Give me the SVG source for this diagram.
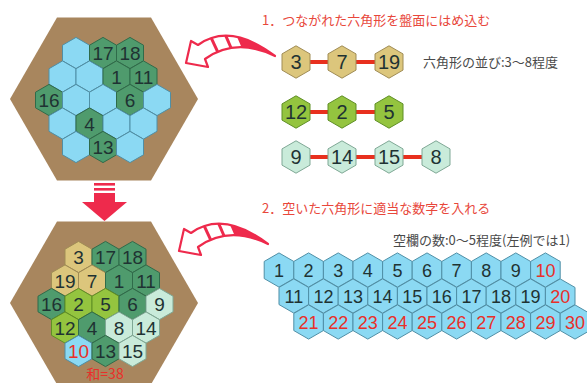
<svg xmlns="http://www.w3.org/2000/svg" xmlns:xlink="http://www.w3.org/1999/xlink" width="587" height="383" viewBox="0 0 587 383">
<style>
.cy{fill:#8bd9f3;stroke:#4f8fa6;stroke-width:1}
.dg{fill:#4f9b6d;stroke:#2f6b4a;stroke-width:1}
.ye{fill:#dcc67c;stroke:#a08c55;stroke-width:1}
.li{fill:#94c43f;stroke:#5f8f25;stroke-width:1}
.pa{fill:#c9ebda;stroke:#7fa895;stroke-width:1}
.board{fill:#a8865e}
.n{font-family:"Liberation Sans",Arial,sans-serif;text-anchor:middle;fill:#1f3333}
.b{font-size:19px}
.g{font-size:18px}
.c{font-size:20px}
.r{fill:#e8302a}
.jp{font-family:"Noto Sans CJK JP","Noto Sans",sans-serif;font-size:13px}
.ttl{fill:#e8473b}
.sub{fill:#4a4a4a}
.link{stroke:#e8301e;stroke-width:4;fill:none}
.arw{fill:#fff;stroke:#ee2a4c;stroke-width:2.2;stroke-linejoin:round}
.arf{fill:#ee2a4c}
</style>
<defs>
<polygon id="hx" points="0,-15.6 13.5,-7.8 13.5,7.8 0,15.6 -13.5,7.8 -13.5,-7.8"/>
<polygon id="hc" points="0,-16.2 14,-8.1 14,8.1 0,16.2 -14,8.1 -14,-8.1"/>
<polygon id="hg" points="0,-17.1 14.8,-8.55 14.8,8.55 0,17.1 -14.8,8.55 -14.8,-8.55"/>
<g id="curl">
<path class="arw" d="M275,56 Q230,22 198,45 L191,41 L186,63 L208,67 L205,59 Q236,37 275,56 Z"/>
<path class="arf" d="M237.1,36.9 Q254.75,40.7 275,56 Q257.45,47.45 241.5,47.2 Z"/>
<line x1="211.3" y1="38.1" x2="217.7" y2="51.8" stroke="#ee2a4c" stroke-width="3"/>
<line x1="225.7" y1="35.7" x2="231.1" y2="48" stroke="#ee2a4c" stroke-width="3"/>
</g>
</defs>
<rect width="587" height="383" fill="#fff"/>

<!-- boards -->
<polygon id="board1" class="board" points="10,99 57,17.6 151,17.6 198,99 151,180.4 57,180.4"/>
<polygon id="board2" class="board" points="10,303 57,221.6 151,221.6 198,303 151,384.4 57,384.4"/>

<!-- top board cells -->
<g id="top-board">
<g id="t1" transform="translate(76,53)"><use href="#hx" class="cy"/></g>
<g id="t2" transform="translate(103,53)"><use href="#hx" class="dg"/><text class="n b" y="7">17</text></g>
<g id="t3" transform="translate(130,53)"><use href="#hx" class="dg"/><text class="n b" y="7">18</text></g>
<g id="t4" transform="translate(62.5,76.5)"><use href="#hx" class="cy"/></g>
<g id="t5" transform="translate(89.5,76.5)"><use href="#hx" class="cy"/></g>
<g id="t6" transform="translate(116.5,76.5)"><use href="#hx" class="dg"/><text class="n b" y="7">1</text></g>
<g id="t7" transform="translate(143.5,76.5)"><use href="#hx" class="dg"/><text class="n b" y="7">11</text></g>
<g id="t8" transform="translate(49,100)"><use href="#hx" class="dg"/><text class="n b" y="7">16</text></g>
<g id="t9" transform="translate(76,100)"><use href="#hx" class="cy"/></g>
<g id="t10" transform="translate(103,100)"><use href="#hx" class="cy"/></g>
<g id="t11" transform="translate(130,100)"><use href="#hx" class="dg"/><text class="n b" y="7">6</text></g>
<g id="t12" transform="translate(157,100)"><use href="#hx" class="cy"/></g>
<g id="t13" transform="translate(62.5,123.5)"><use href="#hx" class="cy"/></g>
<g id="t14" transform="translate(89.5,123.5)"><use href="#hx" class="dg"/><text class="n b" y="7">4</text></g>
<g id="t15" transform="translate(116.5,123.5)"><use href="#hx" class="cy"/></g>
<g id="t16" transform="translate(143.5,123.5)"><use href="#hx" class="cy"/></g>
<g id="t17" transform="translate(76,147)"><use href="#hx" class="cy"/></g>
<g id="t18" transform="translate(103,147)"><use href="#hx" class="dg"/><text class="n b" y="7">13</text></g>
<g id="t19" transform="translate(130,147)"><use href="#hx" class="cy"/></g>
</g>

<!-- bottom board cells -->
<g id="bottom-board">
<g id="b1" transform="translate(78.5,257)"><use href="#hx" class="ye"/><text class="n b" y="7">3</text></g>
<g id="b2" transform="translate(105.5,257)"><use href="#hx" class="dg"/><text class="n b" y="7">17</text></g>
<g id="b3" transform="translate(132.5,257)"><use href="#hx" class="dg"/><text class="n b" y="7">18</text></g>
<g id="b4" transform="translate(65,280.5)"><use href="#hx" class="ye"/><text class="n b" y="7">19</text></g>
<g id="b5" transform="translate(92,280.5)"><use href="#hx" class="ye"/><text class="n b" y="7">7</text></g>
<g id="b6" transform="translate(119,280.5)"><use href="#hx" class="dg"/><text class="n b" y="7">1</text></g>
<g id="b7" transform="translate(146,280.5)"><use href="#hx" class="dg"/><text class="n b" y="7">11</text></g>
<g id="b8" transform="translate(51.5,304)"><use href="#hx" class="dg"/><text class="n b" y="7">16</text></g>
<g id="b9" transform="translate(78.5,304)"><use href="#hx" class="li"/><text class="n b" y="7">2</text></g>
<g id="b10" transform="translate(105.5,304)"><use href="#hx" class="li"/><text class="n b" y="7">5</text></g>
<g id="b11" transform="translate(132.5,304)"><use href="#hx" class="dg"/><text class="n b" y="7">6</text></g>
<g id="b12" transform="translate(159.5,304)"><use href="#hx" class="pa"/><text class="n b" y="7">9</text></g>
<g id="b13" transform="translate(65,327.5)"><use href="#hx" class="li"/><text class="n b" y="7">12</text></g>
<g id="b14" transform="translate(92,327.5)"><use href="#hx" class="dg"/><text class="n b" y="7">4</text></g>
<g id="b15" transform="translate(119,327.5)"><use href="#hx" class="pa"/><text class="n b" y="7">8</text></g>
<g id="b16" transform="translate(146,327.5)"><use href="#hx" class="pa"/><text class="n b" y="7">14</text></g>
<g id="b17" transform="translate(78.5,351)"><use href="#hx" class="cy"/><text class="n b r" y="7">10</text></g>
<g id="b18" transform="translate(105.5,351)"><use href="#hx" class="dg"/><text class="n b" y="7">13</text></g>
<g id="b19" transform="translate(132.5,351)"><use href="#hx" class="pa"/><text class="n b" y="7">15</text></g>
</g>
<text id="sum" x="105" y="379" class="jp r" text-anchor="middle" style="font-size:14px">和=38</text>

<!-- arrows -->
<g id="arrows">
<use href="#curl"/>
<use href="#curl" transform="translate(-7,188)"/>
<g id="down-arrow" fill="#ee2a4c">
<rect x="94" y="183" width="21" height="2.6"/>
<rect x="94" y="188" width="21" height="2.6"/>
<rect x="94" y="193" width="21" height="10"/>
<polygon points="82,202 127,202 104.5,221"/>
</g>
</g>

<!-- titles -->
<text id="title1" x="262" y="25" class="jp ttl">1．つながれた六角形を盤面にはめ込む</text>
<text id="note1" x="423" y="67" class="jp sub">六角形の並び:3〜8程度</text>
<text id="title2" x="262" y="213" class="jp ttl">2．空いた六角形に適当な数字を入れる</text>
<text id="note2" x="393" y="245" class="jp sub">空欄の数:0〜5程度(左例では1)</text>

<!-- chain connectors -->
<g id="connectors">
<line class="link" x1="296" y1="62" x2="389" y2="62"/>
<line class="link" x1="296" y1="112" x2="389" y2="112"/>
<line class="link" x1="296" y1="157" x2="436" y2="157"/>
</g>

<!-- chain hexes -->
<g id="c1" transform="translate(296,62)"><use href="#hc" class="ye"/><text class="n c" y="7">3</text></g>
<g id="c2" transform="translate(342,62)"><use href="#hc" class="ye"/><text class="n c" y="7">7</text></g>
<g id="c3" transform="translate(389,62)"><use href="#hc" class="ye"/><text class="n c" y="7">19</text></g>
<g id="c4" transform="translate(296,112)"><use href="#hc" class="li"/><text class="n c" y="7">12</text></g>
<g id="c5" transform="translate(342,112)"><use href="#hc" class="li"/><text class="n c" y="7">2</text></g>
<g id="c6" transform="translate(389,112)"><use href="#hc" class="li"/><text class="n c" y="7">5</text></g>
<g id="c7" transform="translate(296,157)"><use href="#hc" class="pa"/><text class="n c" y="7">9</text></g>
<g id="c8" transform="translate(342,157)"><use href="#hc" class="pa"/><text class="n c" y="7">14</text></g>
<g id="c9" transform="translate(389,157)"><use href="#hc" class="pa"/><text class="n c" y="7">15</text></g>
<g id="c10" transform="translate(436,157)"><use href="#hc" class="pa"/><text class="n c" y="7">8</text></g>

<!-- number grid -->
<g id="grid">
<g id="g1" transform="translate(279,270)"><use href="#hg" class="cy"/><text class="n g" y="6.5">1</text></g>
<g id="g2" transform="translate(308.6,270)"><use href="#hg" class="cy"/><text class="n g" y="6.5">2</text></g>
<g id="g3" transform="translate(338.2,270)"><use href="#hg" class="cy"/><text class="n g" y="6.5">3</text></g>
<g id="g4" transform="translate(367.8,270)"><use href="#hg" class="cy"/><text class="n g" y="6.5">4</text></g>
<g id="g5" transform="translate(397.4,270)"><use href="#hg" class="cy"/><text class="n g" y="6.5">5</text></g>
<g id="g6" transform="translate(427,270)"><use href="#hg" class="cy"/><text class="n g" y="6.5">6</text></g>
<g id="g7" transform="translate(456.6,270)"><use href="#hg" class="cy"/><text class="n g" y="6.5">7</text></g>
<g id="g8" transform="translate(486.2,270)"><use href="#hg" class="cy"/><text class="n g" y="6.5">8</text></g>
<g id="g9" transform="translate(515.8,270)"><use href="#hg" class="cy"/><text class="n g" y="6.5">9</text></g>
<g id="g10" transform="translate(545.4,270)"><use href="#hg" class="cy"/><text class="n g r" y="6.5">10</text></g>
<g id="g11" transform="translate(293.8,296)"><use href="#hg" class="cy"/><text class="n g" y="6.5">11</text></g>
<g id="g12" transform="translate(323.4,296)"><use href="#hg" class="cy"/><text class="n g" y="6.5">12</text></g>
<g id="g13" transform="translate(353,296)"><use href="#hg" class="cy"/><text class="n g" y="6.5">13</text></g>
<g id="g14" transform="translate(382.6,296)"><use href="#hg" class="cy"/><text class="n g" y="6.5">14</text></g>
<g id="g15" transform="translate(412.2,296)"><use href="#hg" class="cy"/><text class="n g" y="6.5">15</text></g>
<g id="g16" transform="translate(441.8,296)"><use href="#hg" class="cy"/><text class="n g" y="6.5">16</text></g>
<g id="g17" transform="translate(471.4,296)"><use href="#hg" class="cy"/><text class="n g" y="6.5">17</text></g>
<g id="g18" transform="translate(501,296)"><use href="#hg" class="cy"/><text class="n g" y="6.5">18</text></g>
<g id="g19" transform="translate(530.6,296)"><use href="#hg" class="cy"/><text class="n g" y="6.5">19</text></g>
<g id="g20" transform="translate(560.2,296)"><use href="#hg" class="cy"/><text class="n g r" y="6.5">20</text></g>
<g id="g21" transform="translate(308.6,322)"><use href="#hg" class="cy"/><text class="n g r" y="6.5">21</text></g>
<g id="g22" transform="translate(338.2,322)"><use href="#hg" class="cy"/><text class="n g r" y="6.5">22</text></g>
<g id="g23" transform="translate(367.8,322)"><use href="#hg" class="cy"/><text class="n g r" y="6.5">23</text></g>
<g id="g24" transform="translate(397.4,322)"><use href="#hg" class="cy"/><text class="n g r" y="6.5">24</text></g>
<g id="g25" transform="translate(427,322)"><use href="#hg" class="cy"/><text class="n g r" y="6.5">25</text></g>
<g id="g26" transform="translate(456.6,322)"><use href="#hg" class="cy"/><text class="n g r" y="6.5">26</text></g>
<g id="g27" transform="translate(486.2,322)"><use href="#hg" class="cy"/><text class="n g r" y="6.5">27</text></g>
<g id="g28" transform="translate(515.8,322)"><use href="#hg" class="cy"/><text class="n g r" y="6.5">28</text></g>
<g id="g29" transform="translate(545.4,322)"><use href="#hg" class="cy"/><text class="n g r" y="6.5">29</text></g>
<g id="g30" transform="translate(575,322)"><use href="#hg" class="cy"/><text class="n g r" y="6.5">30</text></g>
</g>
</svg>
